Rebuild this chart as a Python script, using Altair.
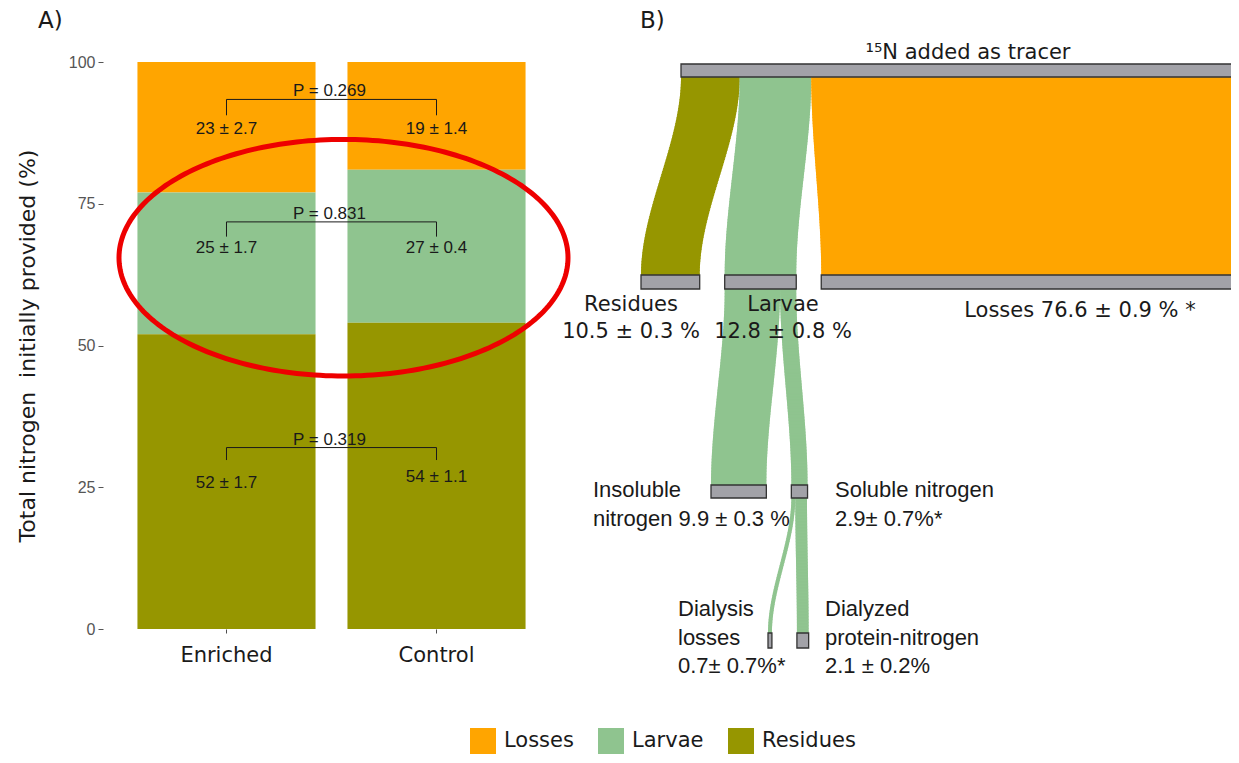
import math
import altair as alt
import pandas as pd

# ---------------- Panel A data ----------------
treatments = ["Enriched", "Control"]
parts = ["Losses", "Larvae", "Residues"]
enriched_values = [23, 25, 52]
control_values = [19, 27, 54]
p_labels = ["P = 0.269", "P = 0.831", "P = 0.319"]
enriched_labels = ["23 ± 2.7", "25 ± 1.7", "52 ± 1.7"]
control_labels = ["19 ± 1.4", "27 ± 0.4", "54 ± 1.1"]

# annotation placement (in % units of the y axis)
bracket_line_y = [93.4, 71.8, 32.0]
bracket_tip_y = [90.6, 69.2, 29.8]
enriched_label_y = [87.3, 66.3, 24.8]
control_label_y = [87.3, 66.3, 26.0]

# ---------------- Panel B (Sankey) data ----------------
node_names = ["Tracer", "Residues", "Larvae", "Losses", "Insoluble", "Soluble", "Dialysis", "Dialyzed"]
node_values = [100.0, 10.5, 12.8, 76.6, 9.9, 2.9, 0.7, 2.1]
node_level = [0, 1, 1, 1, 2, 2, 3, 3]
link_source = ["Tracer", "Tracer", "Tracer", "Larvae", "Larvae", "Soluble", "Soluble"]
link_target = ["Residues", "Larvae", "Losses", "Insoluble", "Soluble", "Dialysis", "Dialyzed"]
link_values = [10.5, 12.8, 76.6, 9.9, 2.9, 0.7, 2.1]
link_part = ["Residues", "Larvae", "Losses", "Larvae", "Larvae", "Larvae", "Larvae"]

center_label_text = ["¹⁵N added as tracer", "Residues\n10.5 ± 0.3 %", "Larvae\n12.8 ± 0.8 %",
                     "Losses 76.6 ± 0.9 % *"]
left_label_text = ["Insoluble\nnitrogen 9.9 ± 0.3 %", "Soluble nitrogen\n2.9± 0.7%*",
                   "Dialysis\nlosses\n0.7± 0.7%*", "Dialyzed\nprotein-nitrogen\n2.1 ± 0.2%"]

# ---------------- layout (page pixels) ----------------
PX_PER_PCT = 5.59
NODE_GAP = 25
LEVEL_X0 = [681, 641, 711, 768]
LEVEL_TOP = [64, 275, 485, 633]
LEVEL_BOTTOM = [77, 289, 498, 648]
center_label_x = [968, 631, 783, 1080]
center_label_y = [59, 311, 311, 317]
left_label_x = [593, 835, 678, 825]
left_label_y = [497, 497, 616, 616]
ELLIPSE = dict(cx=343.5, cy=257.7, rx=224.5, ry=118.3)
SLICE = 1.5

palette = {"Losses": "#FFA500", "Larvae": "#8FC48F", "Residues": "#969600"}
color_scale = alt.Scale(domain=parts, range=[palette[p] for p in parts])

W, H = 1128, 567
PAD_L, PAD_T, PAD_B = 95, 54, 126

# ---------------- Panel A ----------------
stack_rank = {"Residues": 0, "Larvae": 1, "Losses": 2}
bar_rows = []
for t, vals in zip(treatments, [enriched_values, control_values]):
    for p, v in zip(parts, vals):
        bar_rows.append({"treatment": t, "part": p, "value": v, "rank": stack_rank[p]})
bar_df = pd.DataFrame(bar_rows)

x_band = alt.Scale(domain=treatments, range=[0, 457], paddingInner=0.152, paddingOuter=0.164)

bars = alt.Chart(bar_df).mark_bar().encode(
    x=alt.X("treatment:N", sort=treatments, scale=x_band,
            axis=alt.Axis(title=None, labelFont="DejaVu Sans", labelFontSize=21, labelColor="#1a1a1a",
                          labelAngle=0, tickColor="#4d4d4d", tickSize=4, labelPadding=11,
                          domain=False, grid=False)),
    y=alt.Y("value:Q", stack="zero", scale=alt.Scale(domain=[0, 100], nice=False),
            axis=alt.Axis(values=[0, 25, 50, 75, 100], title="Total nitrogen \u00a0initially provided (%)",
                          titleFont="DejaVu Sans", titleFontSize=22, titleFontWeight="normal",
                          titleColor="#1a1a1a", titlePadding=29,
                          labelFont="Liberation Sans", labelFontSize=16, labelColor="#555555",
                          tickColor="#555555", tickSize=5, labelPadding=3,
                          domain=False, grid=False)),
    color=alt.Color("part:N", scale=color_scale,
                    legend=alt.Legend(title=None, orient="none", legendX=367, legendY=666,
                                      direction="horizontal", symbolType="square", symbolSize=676,
                                      symbolStrokeWidth=0, labelFont="DejaVu Sans", labelFontSize=21,
                                      labelColor="#1a1a1a", labelOffset=8, columnPadding=24,
                                      padding=0)),
    order=alt.Order("rank:Q", sort="ascending"),
)

br_rows = []
for i in range(3):
    br_rows += [
        {"b": i, "k": 0, "treatment": "Enriched", "value": bracket_tip_y[i]},
        {"b": i, "k": 1, "treatment": "Enriched", "value": bracket_line_y[i]},
        {"b": i, "k": 2, "treatment": "Control", "value": bracket_line_y[i]},
        {"b": i, "k": 3, "treatment": "Control", "value": bracket_tip_y[i]},
    ]
brackets = alt.Chart(pd.DataFrame(br_rows)).mark_line(color="#1a1a1a", strokeWidth=1).encode(
    x=alt.X("treatment:N", sort=treatments),
    y=alt.Y("value:Q"),
    detail="b:N",
    order="k:Q",
)

p_df = pd.DataFrame({"treatment": ["Enriched"] * 3, "value": bracket_line_y, "label": p_labels})
ptext = alt.Chart(p_df).mark_text(font="Liberation Sans", fontSize=17, color="#1a1a1a",
                                  baseline="alphabetic", dx=103, dy=-3).encode(
    x=alt.X("treatment:N", sort=treatments), y=alt.Y("value:Q"), text="label:N")

v_df = pd.DataFrame({
    "treatment": ["Enriched"] * 3 + ["Control"] * 3,
    "value": enriched_label_y + control_label_y,
    "label": enriched_labels + control_labels,
})
vtext = alt.Chart(v_df).mark_text(font="Liberation Sans", fontSize=17, color="#1a1a1a",
                                  baseline="alphabetic").encode(
    x=alt.X("treatment:N", sort=treatments), y=alt.Y("value:Q"), text="label:N")

panel_a = alt.layer(bars, brackets, ptext, vtext)

# ---------------- Panel B: Sankey layout ----------------
lvl = dict(zip(node_names, node_level))
node_x0, node_x1 = {}, {}
cursor = dict(enumerate(LEVEL_X0))
for name, val, lev in zip(node_names, node_values, node_level):
    node_x0[name] = cursor[lev]
    node_x1[name] = cursor[lev] + val * PX_PER_PCT
    cursor[lev] = node_x1[name] + NODE_GAP

node_df = pd.DataFrame({
    "name": node_names,
    "x0": [node_x0[n] for n in node_names],
    "x1": [node_x1[n] for n in node_names],
    "y0": [LEVEL_TOP[lvl[n]] for n in node_names],
    "y1": [LEVEL_BOTTOM[lvl[n]] for n in node_names],
})

# flows are drawn as thin horizontal slices of a smooth (smoothstep) band
src_cur = dict(node_x0)
tgt_cur = dict(node_x0)
flow_rows = []
for i, (s, t, v, p) in enumerate(zip(link_source, link_target, link_values, link_part)):
    w = v * PX_PER_PCT
    xs0 = src_cur[s]; src_cur[s] += w
    xt0 = tgt_cur[t]; tgt_cur[t] += w
    ys = LEVEL_BOTTOM[lvl[s]]
    yt = LEVEL_TOP[lvl[t]]
    n = int(math.ceil((yt - ys) / SLICE))
    for k in range(n):
        ya = ys + (yt - ys) * k / n
        yb = ys + (yt - ys) * (k + 1) / n
        f = (k + 0.5) / n
        sm = f * f * (3 - 2 * f)
        xl = xs0 + (xt0 - xs0) * sm
        flow_rows.append({"link": i, "part": p, "ya": ya - 0.4, "yb": yb + 0.4,
                          "xl": xl, "xr": xl + w})
flow_df = pd.DataFrame(flow_rows)

xs = alt.Scale(domain=[8, 8 + W + PAD_L], range=[-PAD_L, W], nice=False, zero=False)
ys_ = alt.Scale(domain=[8, 8 + H + PAD_T + PAD_B], range=[-PAD_T, H + PAD_B], nice=False, zero=False)

flows = alt.Chart(flow_df).mark_rect(strokeWidth=0).encode(
    x=alt.X("xl:Q", scale=xs, axis=None), x2="xr:Q",
    y=alt.Y("ya:Q", scale=ys_, axis=None), y2="yb:Q",
    color=alt.Color("part:N", scale=color_scale, legend=None),
)

nodes = alt.Chart(node_df).mark_rect(fill="#A2A2A8", stroke="#333333", strokeWidth=1.3).encode(
    x=alt.X("x0:Q", scale=xs, axis=None), x2="x1:Q",
    y=alt.Y("y0:Q", scale=ys_, axis=None), y2="y1:Q",
)

cl_df = pd.DataFrame({"x": center_label_x, "y": center_label_y, "label": center_label_text})
clabels = alt.Chart(cl_df).mark_text(font="DejaVu Sans", fontSize=21, color="#1a1a1a", align="center",
                                     baseline="alphabetic", lineBreak="\n", lineHeight=27).encode(
    x=alt.X("x:Q", scale=xs, axis=None), y=alt.Y("y:Q", scale=ys_, axis=None), text="label:N")

ll_df = pd.DataFrame({"x": left_label_x, "y": left_label_y, "label": left_label_text})
llabels = alt.Chart(ll_df).mark_text(font="Liberation Sans", fontSize=22, color="#1a1a1a", align="left",
                                     baseline="alphabetic", lineBreak="\n", lineHeight=28.5).encode(
    x=alt.X("x:Q", scale=xs, axis=None), y=alt.Y("y:Q", scale=ys_, axis=None), text="label:N")

pt_df = pd.DataFrame({"x": [38, 640], "y": [28, 28], "label": ["A)", "B)"]})
ptitles = alt.Chart(pt_df).mark_text(font="DejaVu Sans", fontSize=23, color="#1a1a1a", align="left",
                                     baseline="alphabetic").encode(
    x=alt.X("x:Q", scale=xs, axis=None), y=alt.Y("y:Q", scale=ys_, axis=None), text="label:N")

M = 240
ell_df = pd.DataFrame({
    "k": list(range(M + 1)),
    "x": [ELLIPSE["cx"] + ELLIPSE["rx"] * math.cos(2 * math.pi * k / M) for k in range(M + 1)],
    "y": [ELLIPSE["cy"] + ELLIPSE["ry"] * math.sin(2 * math.pi * k / M) for k in range(M + 1)],
})
ellipse = alt.Chart(ell_df).mark_line(color="#EE0000", strokeWidth=5).encode(
    x=alt.X("x:Q", scale=xs, axis=None), y=alt.Y("y:Q", scale=ys_, axis=None), order="k:Q")

panel_b = alt.layer(flows, nodes, clabels, llabels, ptitles, ellipse)

chart = (
    alt.layer(panel_a, panel_b)
    .resolve_scale(x="independent", y="independent")
    .properties(
        width=W, height=H,
        autosize=alt.AutoSizeParams(type="none"),
        padding={"left": PAD_L, "top": PAD_T, "right": 0, "bottom": PAD_B},
    )
    .configure(font="DejaVu Sans")
    .configure_view(stroke=None, strokeWidth=0)
    .configure_axis(domain=False, grid=False)
)

chart.save("out.html", embed_options={"renderer": "svg", "actions": False})
